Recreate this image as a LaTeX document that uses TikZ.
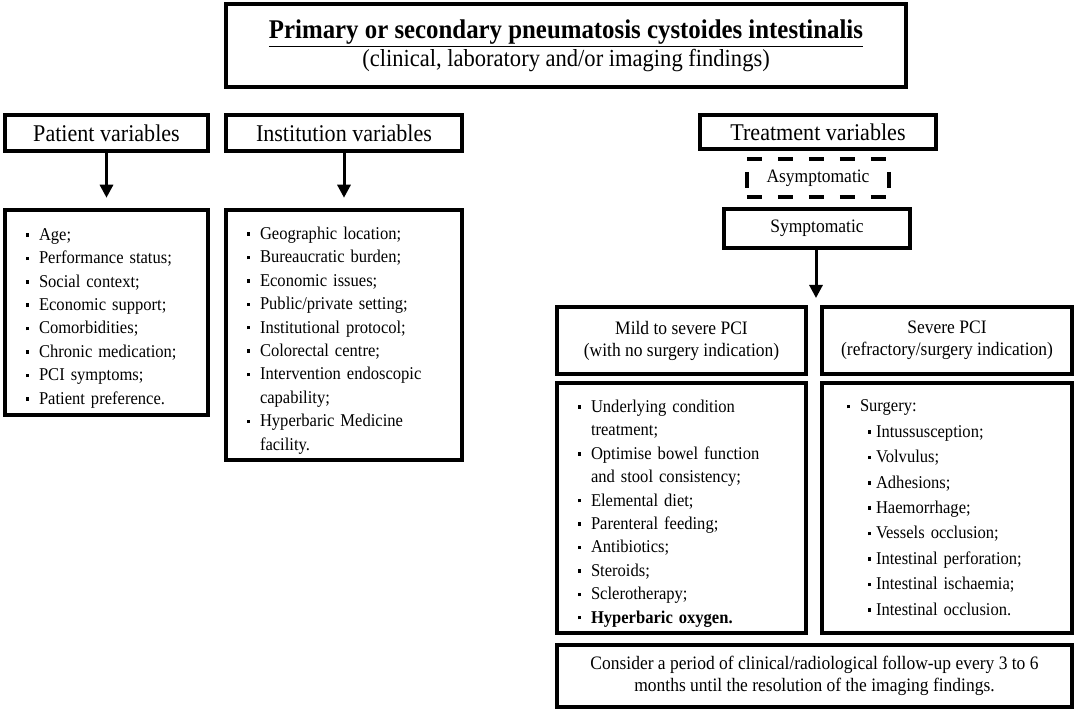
\documentclass[tikz,border=0pt]{standalone}
\usepackage{fontspec}
\setmainfont{Liberation Serif}[FakeStretch=0.92]
\usetikzlibrary{arrows.meta,positioning}

% bullet list used in the boxes
\newenvironment{pcilist}[1][26pt]{\begin{list}{\rule[0.2em]{3.5pt}{3.5pt}}{%
  \setlength\leftmargin{#1}\setlength\labelsep{10pt}\setlength\labelwidth{14pt}%
  \setlength\itemsep{0pt}\setlength\parsep{0pt}\setlength\topsep{0pt}%
  \setlength\partopsep{0pt}}}{\end{list}}
\newenvironment{pcisublist}{\begin{list}{\rule[0.2em]{3.5pt}{3.5pt}}{%
  \setlength\leftmargin{16pt}\setlength\labelsep{5pt}\setlength\labelwidth{10pt}%
  \setlength\itemsep{0pt}\setlength\parsep{0pt}\setlength\topsep{0pt}%
  \setlength\partopsep{0pt}}}{\end{list}}

\begin{document}
\begin{tikzpicture}[x=1pt,y=-1pt,
        hdr/.style={draw,line width=3.5pt,inner sep=0pt,align=center},
        listbox/.style={draw,line width=4.5pt,inner xsep=8pt,inner ysep=0pt,
                        font=\fontsize{18}{23.4}\selectfont},
        arr/.style={line width=3pt,-{Triangle[length=13pt,width=13pt]}},
        dashside/.style={line width=4pt,dash pattern=on 15pt off 16pt}]
   \useasboundingbox (0,0) rectangle (1084,711);

   % title
   \node (title) [hdr,line width=4pt,minimum width=680pt,minimum height=83pt] at (566,46)
      {{\fontsize{27}{31}\selectfont\bfseries\underline{Primary or secondary pneumatosis cystoides intestinalis}}\\[2pt]
       {\fontsize{24.5}{28}\selectfont (clinical, laboratory and/or imaging findings)}};

   % three variable groups
   \node (patient) [hdr,minimum width=203pt,minimum height=36pt,font=\fontsize{24}{28}\selectfont]
      at (106.5,133) {Patient variables};
   \node (institution) [hdr,minimum width=236pt,minimum height=36pt,font=\fontsize{24}{28}\selectfont]
      at (344,133) {Institution variables};
   \node (treatment) [hdr,minimum width=236pt,minimum height=34pt,font=\fontsize{24}{28}\selectfont]
      at (818,132) {Treatment variables};

   \node (patlist) [listbox,text width=187pt,minimum height=205pt] at (106.5,312.5) {%
      \begin{pcilist}
      \item Age;
      \item Performance status;
      \item Social context;
      \item Economic support;
      \item Comorbidities;
      \item Chronic medication;
      \item PCI symptoms;
      \item Patient preference.
      \end{pcilist}};
   \node (instlist) [listbox,text width=220pt,minimum height=250pt] at (344,335) {%
      \begin{pcilist}
      \item Geographic location;
      \item Bureaucratic burden;
      \item Economic issues;
      \item Public/private setting;
      \item Institutional protocol;
      \item Colorectal centre;
      \item Intervention endoscopic\newline capability;
      \item Hyperbaric Medicine\newline facility.
      \end{pcilist}};

   \draw[arr,shorten >=10pt] (patient) -- (patlist);
   \draw[arr,shorten >=10pt] (institution) -- (instlist);

   % treatment branch
   \node (asym) [inner sep=0pt,minimum width=142pt,minimum height=38pt,font=\fontsize{19}{22}\selectfont]
      at (818,178) {Asymptomatic};
   \draw[dashside] (asym.north west) -- (asym.north east);
   \draw[dashside] (asym.south west) -- (asym.south east);
   \draw[dashside,dash pattern=on 16pt off 29pt,dash phase=32pt] (asym.north west) -- (asym.south west);
   \draw[dashside,dash pattern=on 16pt off 29pt,dash phase=32pt] (asym.north east) -- (asym.south east);

   \node (sympt) [hdr,minimum width=186pt,minimum height=39pt,font=\fontsize{19}{22}\selectfont]
      at (817,228.5) {Symptomatic};
   \coordinate (fork) at (816,298);
   \draw[arr] (sympt.south -| fork) -- (fork);

   \node (mild) [hdr,minimum width=249pt,minimum height=67pt,font=\fontsize{19}{22}\selectfont]
      at (681.5,340.5) {Mild to severe PCI\\(with no surgery indication)};
   \node (severe) [hdr,minimum width=250pt,minimum height=67pt,font=\fontsize{19}{22}\selectfont]
      at (947,340.5) {Severe PCI\\(refractory/surgery indication)};

   \node (mildlist) [listbox,text width=233pt,minimum height=250pt] at (681.5,508) {%
      \begin{pcilist}
      \item Underlying condition\newline treatment;
      \item Optimise bowel function\newline and stool consistency;
      \item Elemental diet;
      \item Parenteral feeding;
      \item Antibiotics;
      \item Steroids;
      \item Sclerotherapy;
      \item \textbf{Hyperbaric oxygen.}
      \end{pcilist}};
   \node (sevlist) [listbox,text width=234pt,minimum height=250pt,
                    font=\fontsize{18}{25.4}\selectfont] at (947,508) {%
      \begin{pcilist}[30pt]
      \item Surgery:
         \begin{pcisublist}
         \item Intussusception;
         \item Volvulus;
         \item Adhesions;
         \item Haemorrhage;
         \item Vessels occlusion;
         \item Intestinal perforation;
         \item Intestinal ischaemia;
         \item Intestinal occlusion.
         \end{pcisublist}
      \end{pcilist}\par\vspace*{14pt}\hrule height 0pt width 0pt};

   \node (followup) [hdr,line width=4.5pt,minimum width=515pt,minimum height=62pt,
                     font=\fontsize{19}{22}\selectfont] at (814.5,676)
      {Consider a period of clinical/radiological follow-up every 3 to 6\\months until the resolution of the imaging findings.};
\end{tikzpicture}
\end{document}
